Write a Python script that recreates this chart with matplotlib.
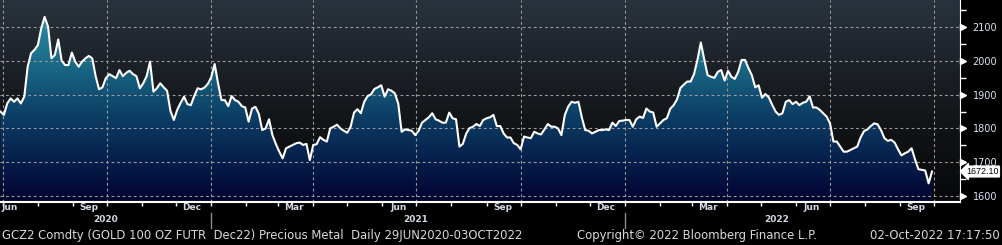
import numpy as np
import pandas as pd
import matplotlib
matplotlib.use('Agg')
import matplotlib.pyplot as plt
import matplotlib.dates as mdates
import matplotlib.transforms as mtransforms
from matplotlib.colors import LinearSegmentedColormap

# Datos (cada 3 dias)
fechas = pd.date_range('2020-06-29', periods=275, freq='3D')
precios = [
    1850, 1840, 1874, 1889, 1879, 1889, 1874, 1894, 1983, 2023,
    2033, 2047, 2097, 2131, 2102, 2008, 2018, 2064, 2001, 1988,
    1988, 2025, 1998, 1983, 1998, 2008, 2015, 2008, 1955, 1916,
    1922, 1949, 1961, 1955, 1949, 1973, 1955, 1965, 1971, 1961,
    1955, 1919, 1934, 1955, 1998, 1909, 1919,
    1934, 1922, 1912, 1852, 1825, 1855, 1876, 1894, 1872, 1869,
    1896, 1919, 1916, 1921, 1932, 1952, 1991, 1934, 1884, 1884,
    1866, 1896, 1884, 1879, 1866, 1862, 1820, 1859, 1864, 1843,
    1795, 1800, 1827, 1780, 1754, 1731, 1711, 1741, 1746, 1751,
    1756, 1758, 1751, 1754, 1706,
    1751, 1753, 1774, 1766, 1761, 1800, 1805, 1811, 1800, 1793,
    1787, 1805, 1847, 1857, 1845, 1879, 1896, 1901, 1917, 1922,
    1928, 1894, 1916, 1912, 1904, 1874, 1790, 1797, 1795, 1793,
    1780, 1793, 1817, 1825, 1833, 1845, 1827, 1823, 1817, 1817,
    1847, 1830, 1827, 1746, 1754, 1785,
    1801, 1805, 1813, 1807, 1825, 1830, 1833, 1840, 1807, 1807,
    1785, 1773, 1773, 1756, 1751, 1738, 1776, 1773, 1771, 1790,
    1785, 1782, 1797, 1813, 1805, 1805, 1800, 1780, 1840, 1865,
    1879, 1876, 1879, 1833, 1795, 1793, 1785, 1790, 1795, 1795,
    1797, 1795, 1817, 1807, 1822, 1823,
    1825, 1825, 1805, 1827, 1835, 1831, 1859, 1850, 1847, 1805,
    1815, 1825, 1830, 1858, 1869, 1886, 1920, 1930, 1939, 1939,
    1961, 2003, 2055, 2005, 1958, 1953, 1950, 1968, 1973, 1942,
    1971, 1953, 1947, 1968, 2003, 2003, 1979, 1958, 1922, 1928,
    1891, 1902, 1892, 1870, 1850, 1840,
    1845, 1879, 1884, 1872, 1879, 1869, 1876, 1879, 1895, 1862,
    1862, 1855, 1845, 1835, 1815, 1761, 1761, 1746, 1731, 1731,
    1736, 1741, 1746, 1773, 1792, 1797, 1807, 1815, 1812, 1795,
    1771, 1763, 1766, 1758, 1738, 1720, 1726, 1731, 1741, 1708,
    1679, 1677, 1675, 1637, 1672.10,
]
ultimo = precios[-1]

y_ticks = [1600, 1700, 1800, 1900, 2000, 2100]
meses_etiqueta = ['2020-09-15', '2020-12-15', '2021-03-15', '2021-06-15',
                  '2021-09-15', '2021-12-15', '2022-03-15', '2022-06-15',
                  '2022-09-15']
nombres_meses = ['Sep', 'Dec', 'Mar', 'Jun', 'Sep', 'Dec', 'Mar', 'Jun', 'Sep']
anios = ['2020', '2021', '2022']
anios_centro = ['2020-09-30', '2021-06-30', '2022-05-15']
separadores = ['2021-01-01', '2022-01-01']

x = mdates.date2num(fechas)
x0 = mdates.date2num(pd.Timestamp('2020-07-01')) - 2.4
x1 = mdates.date2num(pd.Timestamp('2022-10-01')) + 22.7
y0, y1 = 1582.5, 2181

fig = plt.figure(figsize=(10.03, 2.45), dpi=100, facecolor='black')
ax = fig.add_axes([0, 43.3 / 245, 960 / 1003, 201.7 / 245])
ax.set_facecolor('black')

# fondo degradado
fondo = LinearSegmentedColormap.from_list('fondo', ['#07080a', '#101214', '#1c2127', '#29323c'])
grad = np.linspace(0, 1, 256).reshape(-1, 1)
ax.imshow(grad, extent=[x0, x1, y0, y1], origin='lower', aspect='auto', cmap=fondo, zorder=0)

# relleno bajo la curva
relleno = LinearSegmentedColormap.from_list(
    'relleno', [(0, '#01052c'), (0.06, '#030b3a'), (0.4, '#0b3a62'), (0.7, '#1b6c88'), (1, '#3196ae')])
im = ax.imshow(grad, extent=[x0, x1, y0, y1], origin='lower', aspect='auto', cmap=relleno, zorder=1)
poly = ax.fill_between(x, precios, y0, facecolor='none', edgecolor='none')
im.set_clip_path(poly.get_paths()[0], transform=ax.transData)

ax.plot(x, precios, color='white', lw=1.5, zorder=4, solid_joinstyle='round')

ax.set_xlim(x0, x1)
ax.set_ylim(y0, y1)

# ejes
ax.xaxis.set_major_locator(mdates.MonthLocator(bymonth=[1, 4, 7, 10]))
ax.xaxis.set_minor_locator(mdates.MonthLocator())
ax.xaxis.set_major_formatter(plt.NullFormatter())
ax.yaxis.tick_right()
ax.set_yticks(y_ticks)
ax.set_yticks(np.arange(1650, 2200, 100), minor=True)
ax.tick_params(axis='x', which='both', direction='out', length=3, color='white', width=1)
ax.tick_params(axis='y', which='major', length=0, pad=9, labelsize=7, labelcolor='#dbe4f2')
ax.tick_params(axis='y', which='minor', direction='out', length=4, color='white', width=1)
ax.grid(True, which='major', color='#9a9a9a', lw=0.8, ls=(0, (2.5, 2.5)))
for s in ['left', 'top']:
    ax.spines[s].set_visible(False)
ax.spines['right'].set_color('white')
ax.spines['bottom'].set_color('white')
ax.spines['bottom'].set_linewidth(1.5)

# marcas triangulares del eje y
trans_y = mtransforms.blended_transform_factory(ax.transAxes, ax.transData)
tri = mtransforms.offset_copy(trans_y, fig=fig, x=3, y=0, units='dots')
ax.plot([1] * len(y_ticks), y_ticks, ls='none', marker='>', ms=4.5, color='white',
        transform=tri, clip_on=False, zorder=5)

# etiquetas de meses y anios
trans_x = mtransforms.blended_transform_factory(ax.transData, ax.transAxes)
ax.text(0.002, -0.031, 'Jun', transform=ax.transAxes, ha='left', va='center',
        fontsize=6.5, fontweight='bold', color='#d0d8e4')
for f, n in zip(meses_etiqueta, nombres_meses):
    ax.text(mdates.date2num(pd.Timestamp(f)), -0.031, n, transform=trans_x, ha='center',
            va='center', fontsize=6.5, fontweight='bold', color='#d0d8e4', clip_on=False)
for f, a in zip(anios_centro, anios):
    ax.text(mdates.date2num(pd.Timestamp(f)), -0.09, a, transform=trans_x, ha='center',
            va='center', fontsize=6.5, fontweight='bold', color='#d0d8e4', clip_on=False)
for f in separadores:
    ax.plot([mdates.date2num(pd.Timestamp(f))] * 2, [-0.055, -0.13], transform=trans_x,
            color='#8a8a8a', lw=1, clip_on=False)

# ultimo valor
ax.annotate(f'{ultimo:.2f}', xy=(1, ultimo), xycoords=trans_y, xytext=(6, 0),
            textcoords='offset pixels', ha='left', va='center', fontsize=6.4,
            family='Liberation Sans', color='black',
            bbox=dict(boxstyle='larrow,pad=0.1', fc='white', ec='white'), annotation_clip=False)

# pie
fig.text(0.002, 0.037, 'GCZ2 Comdty (GOLD 100 OZ FUTR  Dec22) Precious Metal  Daily 29JUN2020-03OCT2022',
         fontsize=8.4, color='#d8d8d8', ha='left', va='center')
fig.text(577 / 1003, 0.037, 'Copyright\u00a9 2022 Bloomberg Finance L.P.',
         fontsize=8.4, color='#d8d8d8', ha='left', va='center')
fig.text(0.997, 0.037, '02-Oct-2022 17:17:50', fontsize=8.4, color='#d8d8d8', ha='right', va='center')

fig.savefig('out.png', dpi=100, facecolor='black')
